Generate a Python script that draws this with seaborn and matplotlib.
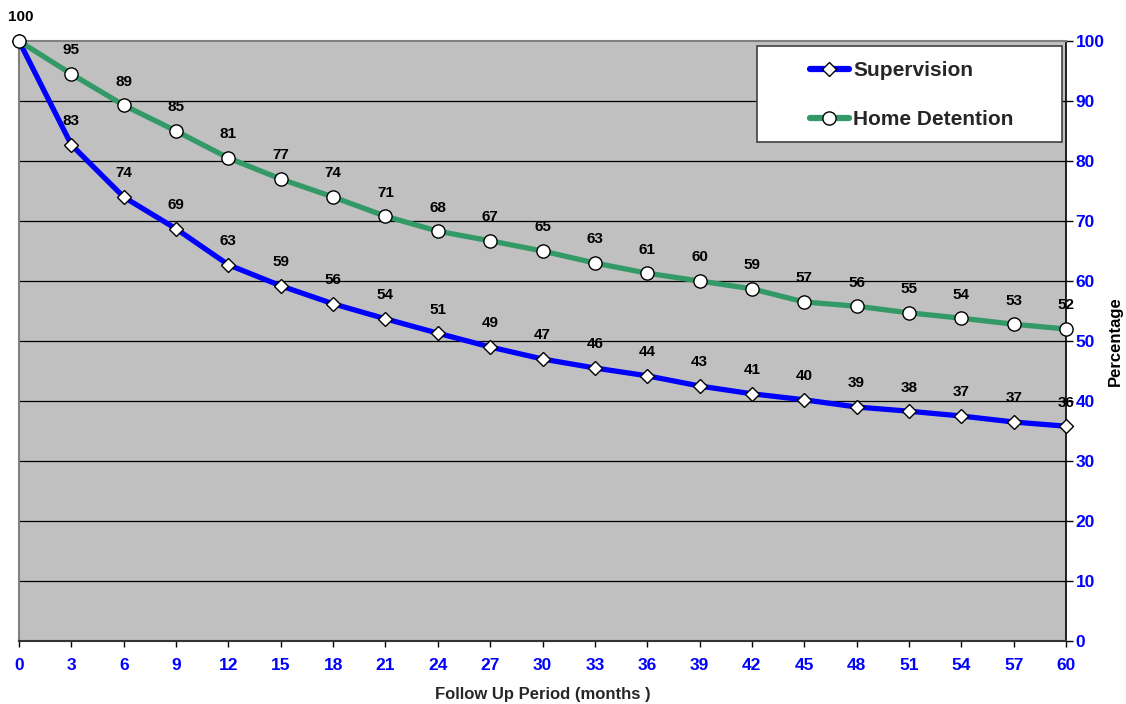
import matplotlib
matplotlib.use("Agg")
import matplotlib.pyplot as plt
from matplotlib.patches import Rectangle
import seaborn as sns
import pandas as pd

months = [0, 3, 6, 9, 12, 15, 18, 21, 24, 27, 30, 33, 36, 39, 42, 45, 48, 51, 54, 57, 60]
supervision = [100, 82.7, 74.0, 68.7, 62.7, 59.2, 56.2, 53.7, 51.3, 49.0, 47.0, 45.5,
               44.2, 42.5, 41.2, 40.2, 39.0, 38.3, 37.5, 36.5, 35.8]
home_detention = [100, 94.5, 89.3, 85.0, 80.5, 77.0, 74.0, 70.8, 68.3, 66.7, 65.0, 63.0,
                  61.3, 60.0, 58.7, 56.5, 55.8, 54.7, 53.8, 52.8, 52.0]
sup_labels = ["100", "83", "74", "69", "63", "59", "56", "54", "51", "49", "47", "46",
              "44", "43", "41", "40", "39", "38", "37", "37", "36"]
home_labels = ["100", "95", "89", "85", "81", "77", "74", "71", "68", "67", "65", "63",
               "61", "60", "59", "57", "56", "55", "54", "53", "52"]
y_ticks = [0, 10, 20, 30, 40, 50, 60, 70, 80, 90, 100]

sns.set_theme(style="white")
plt.rcParams['font.family'] = ['Liberation Sans', 'DejaVu Sans']

fig = plt.figure(figsize=(11.26, 7.04), dpi=100)
ax = fig.add_axes([19/1126, 1-641/704, (1066-19)/1126, 600/704])
ax.set_facecolor("#C0C0C0")

df_s = pd.DataFrame({"month": months, "value": supervision})
df_h = pd.DataFrame({"month": months, "value": home_detention})

sns.lineplot(data=df_s, x="month", y="value", ax=ax, color="#0000FF", linewidth=3.8,
             marker="D", markersize=7.5, markerfacecolor="white", markeredgecolor="black",
             markeredgewidth=1.0, label="Supervision", zorder=4, clip_on=False)
sns.lineplot(data=df_h, x="month", y="value", ax=ax, color="#339966", linewidth=3.8,
             marker="o", markersize=9.5, markerfacecolor="white", markeredgecolor="black",
             markeredgewidth=1.0, label="Home Detention", zorder=5, clip_on=False)

for i, (m, v, t) in enumerate(zip(months, supervision, sup_labels)):
    if i == 0:
        continue
    ax.annotate(t, (m, v), xytext=(0, 12), textcoords="offset points", ha="center",
                va="bottom", fontsize=11, fontweight="bold", color="black")
for i, (m, v, t) in enumerate(zip(months, home_detention, home_labels)):
    dx = 1 if i == 0 else 0
    ax.annotate(t, (m, v), xytext=(dx, 12), textcoords="offset points", ha="center",
                va="bottom", fontsize=11, fontweight="bold", color="black")

ax.set_xlim(0, 60)
ax.set_ylim(0, 100)
ax.set_xticks(months)
ax.set_xticklabels([str(m) for m in months])
ax.set_yticks(y_ticks)
ax.set_yticklabels([str(v) for v in y_ticks])
ax.yaxis.tick_right()
for g in y_ticks[1:-1]:
    ax.axhline(g, color="black", linewidth=0.9, zorder=1)

ax.tick_params(axis="x", direction="out", length=4, width=1, color="black",
               labelcolor="#0000FF", labelsize=12.5, pad=8, bottom=True)
ax.tick_params(axis="y", direction="out", length=5, width=1, color="black",
               labelcolor="#0000FF", labelsize=12.5, pad=2, right=True, left=False)
for lab in ax.get_xticklabels() + ax.get_yticklabels():
    lab.set_fontweight("bold")

ax.spines["left"].set_color("#808080")
ax.spines["top"].set_color("#808080")
ax.spines["left"].set_linewidth(1.5)
ax.spines["top"].set_linewidth(1.5)
ax.spines["bottom"].set_color("#333333")
ax.spines["bottom"].set_linewidth(1.5)
ax.spines["right"].set_color("black")
ax.spines["right"].set_linewidth(1.2)

ax.set_xlabel("Follow Up Period (months )", fontsize=12, fontweight="bold", labelpad=10)
ax.set_ylabel("")
fig.text(1115/1126, 1-341/704, "Percentage", rotation=90, ha="center", va="center",
         fontsize=12, fontweight="bold", color="black")

# legend box (Excel-style wide padding)
x0 = (757-19)/1047
x1 = (1062-19)/1047
y1 = (641-46)/600
y0 = (641-142)/600
ax.add_patch(Rectangle((x0, y0), x1-x0, y1-y0, transform=ax.transAxes,
                       facecolor="white", edgecolor="#404040", linewidth=1.2,
                       zorder=9, clip_on=False))
leg = ax.legend(loc="center", bbox_to_anchor=((x0+x1)/2 + 0.002, (y0+y1)/2 - 0.002),
                frameon=False, fontsize=15, handlelength=1.9,
                borderpad=0, labelspacing=1.45, handletextpad=0.2, borderaxespad=0)
for t in leg.get_texts():
    t.set_fontweight("bold")
for h in leg.get_lines():
    h.set_linewidth(4.5)
leg.set_zorder(10)

fig.savefig("out.png", dpi=100)
